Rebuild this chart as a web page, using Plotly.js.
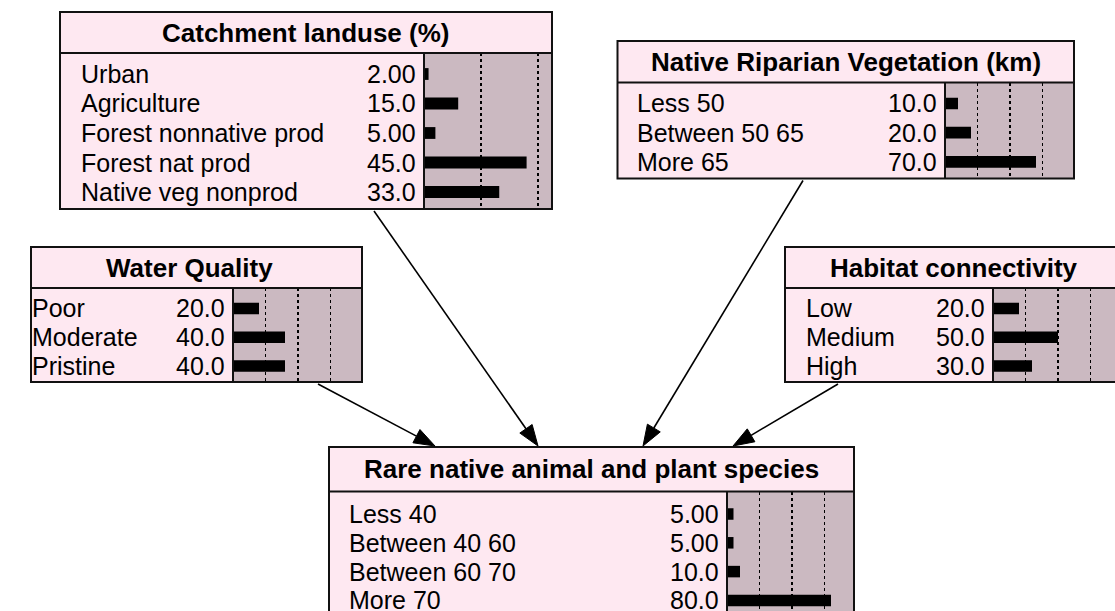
<!DOCTYPE html>
<html>
<head>
<meta charset="utf-8">
<script src="https://cdn.plot.ly/plotly-3.0.1.min.js"></script>
<style>html,body{margin:0;padding:0;background:#fff;}#chart{width:1115px;height:611px;}</style>
</head>
<body>
<div id="chart"></div>
<script>
// ---- data ----
const catchTitle = "Catchment landuse (%)";
const catchStates = ["Urban", "Agriculture", "Forest nonnative prod", "Forest nat prod", "Native veg nonprod"];
const catchValues = [2, 15, 5, 45, 33];

const ripTitle = "Native Riparian Vegetation (km)";
const ripStates = ["Less 50", "Between 50 65", "More 65"];
const ripValues = [10, 20, 70];

const waterTitle = "Water Quality";
const waterStates = ["Poor", "Moderate", "Pristine"];
const waterValues = [20, 40, 40];

const habTitle = "Habitat connectivity";
const habStates = ["Low", "Medium", "High"];
const habValues = [20, 50, 30];

const rareTitle = "Rare native animal and plant species";
const rareStates = ["Less 40", "Between 40 60", "Between 60 70", "More 70"];
const rareValues = [5, 5, 10, 80];

const gridTicks = [25, 50, 75];
const edges = [["catch", "rare"], ["rip", "rare"], ["water", "rare"], ["hab", "rare"]];

// ---- layout geometry (pixels) ----
const W = 1115, H = 611;
const nodes = {
  catch: {title: catchTitle, states: catchStates, values: catchValues,
          L: 60, T: 12, R: 552, S: 53, B: 209, X: 424, scale: 2.28, labelX: 81.7, first: 21, step: 29.5},
  rip:   {title: ripTitle, states: ripStates, values: ripValues,
          L: 617.5, T: 41, R: 1074, S: 82.5, B: 178.5, X: 945, scale: 1.3, labelX: 637.7, first: 21, step: 29.2},
  water: {title: waterTitle, states: waterStates, values: waterValues, titleCx: 189,
          L: 31, T: 247, R: 362, S: 288, B: 382, X: 233, scale: 1.3, labelX: 32.5, first: 20.5, step: 28.8},
  hab:   {title: habTitle, states: habStates, values: habValues,
          L: 785, T: 247, R: 1122, S: 288, B: 382, X: 993, scale: 1.3, labelX: 806.7, first: 20.5, step: 28.8},
  rare:  {title: rareTitle, states: rareStates, values: rareValues,
          L: 329, T: 447, R: 854, S: 491.5, B: 640, X: 727, scale: 1.3, labelX: 350.4, first: 22.5, step: 28.8}
};
const edgeGeom = {
  catch: {tailX: 374, tipX: 538},
  rip:   {tailX: 803, tipX: 643},
  water: {tailX: 318, tipX: 435},
  hab:   {tailX: 838, tipX: 733}
};
const valueGap = 6;
const textPad = 3;

const PINK = "#fee8f1";
const MAUVE = "#cbb9c1";
const FONT = "Liberation Sans, Arial, Helvetica, sans-serif";

function px(x) { return x / W; }
function py(y) { return 1 - y / H; }

const traces = [];
const layout = {
  width: W, height: H,
  margin: {l: 0, r: 0, t: 0, b: 0, pad: 0},
  paper_bgcolor: "#ffffff",
  plot_bgcolor: MAUVE,
  showlegend: false,
  font: {family: FONT, color: "#000"},
  shapes: [],
  annotations: []
};

Object.keys(nodes).forEach(function (key, i) {
  const n = nodes[key];
  const sfx = i === 0 ? "" : String(i + 1);
  const xa = "x" + sfx, ya = "y" + sfx;
  const Rvis = Math.min(n.R, W);
  const barW = Rvis - n.X;
  const xmax = barW / n.scale;
  const r0 = -n.first / n.step;

  layout["xaxis" + sfx] = {
    domain: [px(n.X), px(Rvis)], range: [0, xmax], anchor: ya,
    tickvals: gridTicks, showticklabels: false, ticks: "",
    showgrid: true, gridcolor: "#000", griddash: "dot", gridwidth: 1.2,
    zeroline: false, showline: false, fixedrange: true
  };
  layout["yaxis" + sfx] = {
    domain: [py(Math.min(n.B, H)), py(n.S)], anchor: xa,
    type: "category", categoryarray: n.states,
    range: [r0 + (Math.min(n.B, H) - n.S) / n.step, r0],
    showticklabels: false, ticks: "", showgrid: false, zeroline: false, showline: false, fixedrange: true
  };

  traces.push({
    type: "bar", orientation: "h", x: n.values, y: n.states,
    xaxis: xa, yaxis: ya, width: 0.4,
    marker: {color: "#000", line: {width: 0}}, hoverinfo: "skip"
  });

  // box backgrounds
  layout.shapes.push({type: "rect", xref: "paper", yref: "paper", layer: "below",
    x0: px(n.L), x1: px(n.R), y0: py(n.S), y1: py(n.T), fillcolor: PINK, line: {width: 0}});
  layout.shapes.push({type: "rect", xref: "paper", yref: "paper", layer: "below",
    x0: px(n.L), x1: px(n.X), y0: py(n.B), y1: py(n.S), fillcolor: PINK, line: {width: 0}});
  // borders
  layout.shapes.push({type: "rect", xref: "paper", yref: "paper", layer: "above",
    x0: px(n.L), x1: px(n.R), y0: py(n.B), y1: py(n.T), fillcolor: "rgba(0,0,0,0)", line: {color: "#111", width: 2}});
  layout.shapes.push({type: "line", xref: "paper", yref: "paper", layer: "above",
    x0: px(n.L), x1: px(n.R), y0: py(n.S), y1: py(n.S), line: {color: "#111", width: 2}});
  layout.shapes.push({type: "line", xref: "paper", yref: "paper", layer: "above",
    x0: px(n.X), x1: px(n.X), y0: py(n.B), y1: py(n.S), line: {color: "#111", width: 2}});

  // title
  const tcx = n.titleCx !== undefined ? n.titleCx : (n.L + n.R) / 2;
  layout.annotations.push({xref: "paper", yref: "paper", x: px(tcx), y: py((n.T + n.S) / 2),
    xanchor: "center", yanchor: "middle", showarrow: false, text: n.title,
    font: {family: FONT, size: 26, weight: 700, color: "#000"}});

  // state labels + values
  n.states.forEach(function (s, j) {
    layout.annotations.push({xref: xa + " domain", yref: ya, x: (n.labelX - textPad - n.X) / barW, y: s,
      xanchor: "left", yanchor: "middle", showarrow: false, text: s,
      font: {family: FONT, size: 25, color: "#000"}});
    layout.annotations.push({xref: xa + " domain", yref: ya, x: -valueGap / barW, y: s,
      xanchor: "right", yanchor: "middle", showarrow: false, text: n.values[j].toPrecision(3),
      font: {family: FONT, size: 25, color: "#000"}});
  });
});

// arrows
edges.forEach(function (e) {
  const p = nodes[e[0]], c = nodes[e[1]], g = edgeGeom[e[0]];
  const x0 = g.tailX, y0 = p.B + 2, x1 = g.tipX, y1 = c.T - 1;
  const dx = x1 - x0, dy = y1 - y0, len = Math.sqrt(dx * dx + dy * dy);
  const ux = dx / len, uy = dy / len;
  const hl = 21, hw = 7.5;
  const bx = x1 - ux * hl, by = y1 - uy * hl;
  layout.shapes.push({type: "line", xref: "paper", yref: "paper",
    x0: px(x0), y0: py(y0), x1: px(bx), y1: py(by), line: {color: "#000", width: 1.6}});
  const pA = [bx - uy * hw, by + ux * hw], pB = [bx + uy * hw, by - ux * hw];
  layout.shapes.push({type: "path", xref: "paper", yref: "paper",
    path: "M" + px(x1) + "," + py(y1) + " L" + px(pA[0]) + "," + py(pA[1]) + " L" + px(pB[0]) + "," + py(pB[1]) + " Z",
    fillcolor: "#000", line: {color: "#000", width: 1}});
});

Plotly.newPlot("chart", traces, layout, {displayModeBar: false, staticPlot: true});
</script>
</body>
</html>
